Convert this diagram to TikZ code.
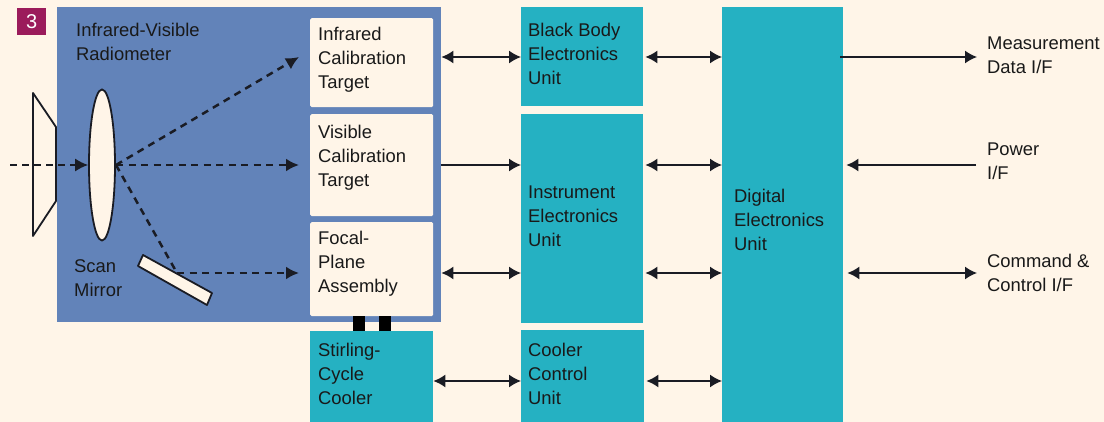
\documentclass[tikz,border=0pt]{standalone}
\usepackage{fontspec}
\setmainfont{Liberation Sans}
\usetikzlibrary{arrows.meta,shapes.geometric}
\definecolor{pagebg}{HTML}{FFF5E8}
\definecolor{radblue}{HTML}{6283B9}
\definecolor{tealbox}{HTML}{25B1C2}
\definecolor{plum}{HTML}{9B1B5B}
\definecolor{ink}{HTML}{1A1C24}
\tikzset{
  x=1pt,y=-1pt,
  lbl/.style={anchor=west,inner sep=0pt,align=left,text=black!90,font=\fontsize{18.4}{24}\selectfont},
  rad/.style={fill=radblue,draw=none,inner sep=0pt,anchor=north west},
  teal/.style={fill=tealbox,draw=none,inner sep=0pt,anchor=north west},
  cream/.style={fill=pagebg,draw=none,rounded corners=1.5pt,inner sep=0pt,anchor=north west},
  conn/.style={draw=ink,line width=1.5pt},
  both/.style={conn,{Latex[length=12pt,width=13pt]}-{Latex[length=12pt,width=13pt]}},
  tohead/.style={conn,-{Latex[length=12pt,width=13pt]}},
  beam/.style={draw=ink,line width=2.5pt,dash pattern=on 7pt off 5.5pt},
  beamhead/.style={beam,-{Latex[length=13pt,width=13pt]}},
  outline/.style={draw=ink,line width=1.8pt,fill=pagebg,line join=round},
  strut/.style={draw=black,line width=12pt},
}
\begin{document}
\begin{tikzpicture}
\useasboundingbox[fill=pagebg] (0,0) rectangle (1104,422);
% rows
\coordinate (r1) at (0,57);
\coordinate (r2) at (0,165);
\coordinate (r3) at (0,273);
\coordinate (r4) at (0,381);
% badge
\node[fill=plum,inner sep=0pt,minimum width=29pt,minimum height=27pt,anchor=north west,text=white,font=\fontsize{20}{22}\selectfont] (badge) at (17,8) {3};
% main blocks
\node[rad,minimum width=384pt,minimum height=315pt] (radm) at (57,7) {};
\node[cream,minimum width=123pt,minimum height=89pt] (irt) at (310,18) {};
\node[cream,minimum width=123pt,minimum height=102pt] (vis) at (310,114) {};
\node[cream,minimum width=123pt,minimum height=94pt] (fpa) at (310,222) {};
\node[teal,minimum width=123pt,minimum height=92pt] (stir) at (310,331) {};
\node[teal,minimum width=122pt,minimum height=99pt] (bb) at (521,7) {};
\node[teal,minimum width=122pt,minimum height=209pt] (inst) at (521,114) {};
\node[teal,minimum width=123pt,minimum height=92pt] (cool) at (521,330) {};
\node[teal,minimum width=121pt,minimum height=415pt] (dig) at (722,7) {};
% struts
\coordinate (s1) at (359,0);
\coordinate (s2) at (385,0);
\draw[strut] (fpa.south -| s1) -- (stir.north -| s1);
\draw[strut] (fpa.south -| s2) -- (stir.north -| s2);
% horn, lens, mirror
\draw[outline] (33,93) -- (56,127) -- (56,201) -- (33,236) -- cycle;
\node[draw=ink,line width=1.8pt,fill=pagebg,ellipse,minimum width=26pt,minimum height=151pt,inner sep=0pt] (lens) at (102,165) {};
\draw[outline] (143,255) -- (212,293) -- (207,305) -- (138,266) -- cycle;
% beams
\coordinate (in) at (10,165);
\coordinate (fp) at (116,165);
\coordinate (bounce) at (177,273);
\coordinate (tir) at (299,57);
\coordinate (tvis) at (299,165);
\coordinate (tfpa) at (299,273);
\draw[draw=ink,line width=1.5pt,dash pattern=on 7pt off 5pt,-{Latex[length=13pt,width=13pt]}] (in) -- (lens.west);
\draw[beamhead] (fp) -- (tir);
\draw[beamhead] (fp) -- (tvis);
\draw[beam] (fp) -- (bounce);
\draw[beamhead] (bounce) -- (tfpa);
% connectors
\draw[both] (radm.east |- r1) -- (bb.west |- r1);
\draw[tohead] (radm.east |- r2) -- (inst.west |- r2);
\draw[both] (radm.east |- r3) -- (inst.west |- r3);
\draw[both] (stir.east |- r4) -- (cool.west |- r4);
\draw[both,shorten <=2pt] (bb.east |- r1) -- (dig.west |- r1);
\draw[both,shorten <=2pt] (inst.east |- r2) -- (dig.west |- r2);
\draw[both,shorten <=2pt] (inst.east |- r3) -- (dig.west |- r3);
\draw[both,shorten <=2pt] (cool.east |- r4) -- (dig.west |- r4);
\coordinate (e1) at (977,57);
\coordinate (e2) at (976,165);
\coordinate (e3) at (977,273);
\draw[tohead] ([xshift=-3pt]dig.east |- r1) -- (e1);
\draw[tohead,shorten >=3pt] (e2) -- (dig.east |- r2);
\draw[both,shorten <=4pt] (dig.east |- r3) -- (e3);
% labels
\node[lbl] (t1) at (76,42) {Infrared-Visible\\Radiometer};
\node[lbl] (t2) at (74,278) {Scan\\Mirror};
\node[lbl] (t3) at (318,60) {Infrared\\Calibration\\Target};
\node[lbl] (t4) at (318,158) {Visible\\Calibration\\Target};
\node[lbl] (t5) at (318,264) {Focal-\\Plane\\Assembly};
\node[lbl] (t6) at (318,374) {Stirling-\\Cycle\\Cooler};
\node[lbl] (t7) at (528,54) {Black Body\\Electronics\\Unit};
\node[lbl] (t8) at (528,216) {Instrument\\Electronics\\Unit};
\node[lbl] (t9) at (528,374) {Cooler\\Control\\Unit};
\node[lbl] (t10) at (734,220) {Digital\\Electronics\\Unit};
\node[lbl] (t11) at (987,55) {Measurement\\Data I/F};
\node[lbl] (t12) at (987,161) {Power\\I/F};
\node[lbl] (t13) at (987,273) {Command \&\\Control I/F};
\end{tikzpicture}
\end{document}
